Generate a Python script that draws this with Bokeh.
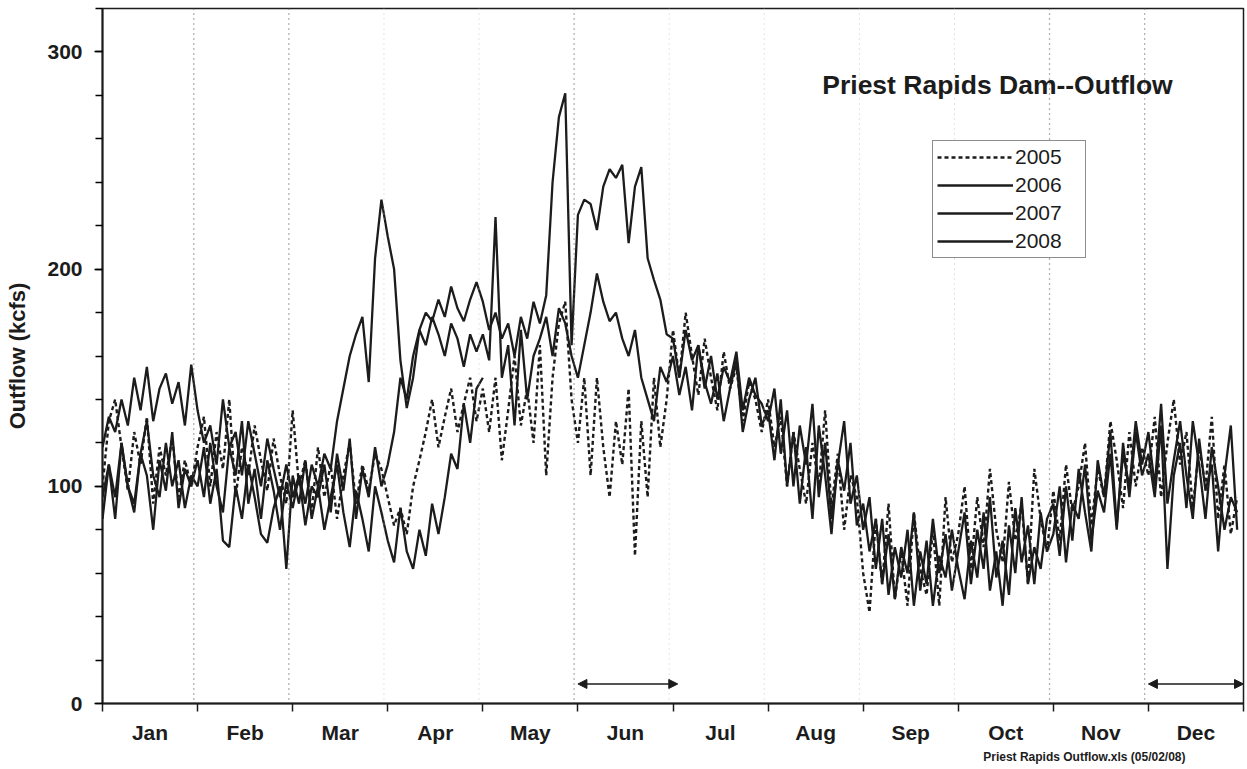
from bokeh.plotting import figure
from bokeh.models import FixedTicker, Label, Legend, LegendItem, Arrow, NormalHead, Span, Title
from bokeh.embed import file_html
from bokeh.resources import INLINE

# ---------------- data ----------------
months = ["Jan", "Feb", "Mar", "Apr", "May", "Jun",
          "Jul", "Aug", "Sep", "Oct", "Nov", "Dec"]
pts_per_month = 15  # samples per month (about every 2 days)

s2005 = [100, 130, 140, 118, 98, 125, 110, 132, 92, 118, 105, 122, 95, 112, 100,
         118, 132, 100, 125, 108, 140, 95, 118, 105, 128, 112, 98, 122, 105, 92,
         135, 100, 112, 88, 118, 95, 110, 85, 105, 120, 92, 110, 98, 115, 108,
         95, 82, 90, 78, 100, 112, 125, 140, 118, 132, 145, 125, 138, 150, 130,
         145, 125, 150, 112, 135, 160, 128, 145, 120, 165, 105, 150, 175, 185, 140,
         120, 150, 105, 150, 118, 95, 130, 110, 145, 68, 130, 95, 150, 118, 140,
         172, 150, 180, 160, 142, 168, 150, 135, 162, 145, 155, 130, 148, 140, 125,
         140, 118, 132, 100, 125, 108, 92, 120, 100, 135, 90, 115, 80, 105, 95,
         60, 42, 85, 55, 92, 48, 70, 45, 88, 62, 50, 80, 45, 95, 65,
         78, 100, 62, 95, 72, 108, 80, 65, 102, 75, 92, 55, 108, 85, 70,
         98, 75, 110, 88, 100, 120, 82, 108, 95, 130, 112, 90, 125, 100, 118,
         105, 132, 95, 120, 140, 110, 125, 90, 118, 100, 132, 85, 110, 78, 95]

s2006 = [118, 132, 125, 140, 128, 150, 135, 155, 130, 145, 152, 138, 148, 128, 156,
         135, 120, 128, 110, 140, 118, 125, 105, 130, 115, 100, 122, 108, 95, 110,
         95, 105, 92, 110, 100, 115, 108, 130, 145, 160, 170, 178, 148, 205, 232,
         215, 200, 158, 136, 150, 172, 180, 176, 186, 178, 192, 182, 176, 186, 194,
         185, 172, 180, 168, 175, 160, 178, 168, 185, 175, 188, 240, 270, 281, 165,
         225, 232, 230, 218, 238, 246, 242, 248, 212, 238, 247, 205, 195, 186, 170,
         168, 150, 172, 158, 165, 145, 160, 140, 155, 148, 162, 135, 150, 142, 138,
         130, 145, 115, 135, 100, 128, 110, 138, 95, 120, 85, 110, 130, 92, 105,
         80, 95, 62, 85, 50, 72, 58, 80, 45, 70, 55, 85, 60, 78, 52,
         70, 88, 55, 80, 62, 95, 58, 75, 50, 90, 65, 82, 55, 88, 70,
         78, 100, 65, 92, 85, 110, 75, 98, 88, 115, 80, 120, 95, 125, 105,
         115, 95, 128, 62, 105, 120, 90, 130, 110, 85, 118, 100, 80, 95, 88]

s2007 = [95, 110, 85, 120, 100, 92, 115, 105, 80, 112, 98, 125, 90, 108, 100,
         112, 95, 120, 100, 88, 118, 105, 130, 92, 108, 85, 112, 98, 80, 102,
         90, 105, 82, 100, 95, 110, 88, 115, 98, 122, 85, 108, 95, 118, 100,
         110, 125, 150, 140, 160, 172, 165, 178, 170, 160, 175, 168, 155, 170, 162,
         170, 158, 224, 150, 165, 128, 172, 140, 160, 168, 178, 160, 182, 175, 160,
         150, 165, 180, 198, 185, 176, 180, 168, 160, 172, 150, 140, 130, 155, 148,
         160, 142, 155, 135, 165, 148, 138, 152, 130, 145, 158, 125, 140, 150, 128,
         135, 112, 140, 100, 125, 92, 118, 85, 128, 105, 78, 112, 98, 120, 82,
         92, 70, 85, 55, 78, 48, 72, 60, 88, 52, 75, 45, 68, 58, 80,
         62, 48, 75, 58, 88, 52, 70, 45, 82, 60, 95, 55, 72, 62, 85,
         92, 68, 100, 75, 108, 88, 70, 112, 95, 125, 82, 115, 100, 130, 110,
         125, 100, 138, 92, 112, 130, 105, 85, 122, 98, 110, 70, 105, 128, 80]

s2008 = [85, 110, 95, 120, 100, 88, 115, 130, 105, 95, 120, 100, 112, 90, 105,
         100, 118, 92, 108, 75, 72, 100, 85, 110, 95, 78, 74, 90, 100, 62,
         105, 92, 112, 85, 100, 80, 95, 110, 88, 72, 98, 85, 70, 100, 88,
         75, 65, 90, 70, 62, 80, 68, 92, 78, 95, 115, 108, 138, 120, 145,
         150]

y_major = [0, 100, 200, 300]
y_minor_step = 20
y_max = 320

strong_boundaries = [1, 2, 5, 10, 11]     # darker dotted month lines
arrow_x0 = [5.0, 11.0]
arrow_x1 = [6.05, 12.0]
arrow_y = 9

title_text = "Priest Rapids Dam--Outflow"
foot_text = "Priest Rapids Outflow.xls (05/02/08)"
FONT = "Liberation Sans"
INK = "#1c1c1c"


def xpos(n):
    return [i / pts_per_month for i in range(n)]


p = figure(frame_width=1141, frame_height=695, x_range=(0, 12), y_range=(0, y_max),
           output_backend="svg", toolbar_location=None,
           min_border_left=102, min_border_right=4, min_border_top=8, min_border_bottom=40,
           background_fill_color="white", border_fill_color="white")
p.outline_line_color = INK
p.outline_line_width = 1.5
p.xgrid.visible = False
p.ygrid.visible = False

# month boundary dotted lines
for b in range(1, 12):
    strong = b in strong_boundaries
    p.add_layout(Span(location=b - 0.04, dimension="height",
                      line_color="#666666" if strong else "#c8c8c8",
                      line_dash="1 4", line_width=1.3 if strong else 1))

r06 = p.line(xpos(len(s2006)), s2006, line_color=INK, line_width=2.3)
r07 = p.line(xpos(len(s2007)), s2007, line_color=INK, line_width=2.3)
r08 = p.line(xpos(len(s2008)), s2008, line_color=INK, line_width=2.3)
r05 = p.line(xpos(len(s2005)), s2005, line_color=INK, line_width=2.4, line_dash="4 3")

# axes
p.xaxis.ticker = FixedTicker(ticks=[i + 0.5 for i in range(12)],
                             minor_ticks=list(range(13)))
p.xaxis.major_label_overrides = {i + 0.5: m for i, m in enumerate(months)}
p.xaxis.major_tick_line_color = None
p.xaxis.major_tick_out = 0
p.xaxis.minor_tick_out = 8
p.xaxis.minor_tick_in = 0
p.xaxis.minor_tick_line_color = INK
p.xaxis.major_label_standoff = 9

p.yaxis.ticker = FixedTicker(ticks=y_major,
                             minor_ticks=list(range(0, y_max + 1, y_minor_step)))
p.yaxis.major_tick_out = 8
p.yaxis.major_tick_in = 0
p.yaxis.minor_tick_out = 7
p.yaxis.minor_tick_in = 0
p.yaxis.major_label_standoff = 12
p.yaxis.axis_label = "Outflow (kcfs)"
p.yaxis.axis_label_standoff = 14

for ax in (p.xaxis, p.yaxis):
    ax.axis_line_color = INK
    ax.axis_line_width = 2
    ax.major_tick_line_width = 1.5
    ax.minor_tick_line_width = 1.5
    ax.major_label_text_font = FONT
    ax.major_label_text_font_style = "bold"
    ax.major_label_text_font_size = "21px"
    ax.major_label_text_color = INK
    ax.axis_label_text_font = FONT
    ax.axis_label_text_font_style = "bold"
    ax.axis_label_text_font_size = "22px"
    ax.axis_label_text_color = INK

# title inside the plot
p.add_layout(Label(x=7.57, y=285, text=title_text, text_font=FONT,
                   text_font_style="bold", text_font_size="26.5px",
                   text_color=INK, text_baseline="middle", text_align="left"))

# footnote under the axis
p.add_layout(Title(text=foot_text, align="right", offset=58, standoff=2,
                   text_font=FONT, text_font_style="bold", text_font_size="12px",
                   text_color=INK), "below")

# double-headed arrows
for xa, xb in zip(arrow_x0, arrow_x1):
    p.add_layout(Arrow(start=NormalHead(size=9, fill_color=INK, line_color=INK),
                       end=NormalHead(size=9, fill_color=INK, line_color=INK),
                       x_start=xa, x_end=xb, y_start=arrow_y, y_end=arrow_y,
                       line_color=INK, line_width=1.5))

legend = Legend(items=[LegendItem(label="2005", renderers=[r05]),
                       LegendItem(label="2006", renderers=[r06]),
                       LegendItem(label="2007", renderers=[r07]),
                       LegendItem(label="2008", renderers=[r08])],
                location=(830, 445), orientation="vertical",
                border_line_color=INK, border_line_width=1,
                background_fill_color="white", background_fill_alpha=1,
                padding=4, spacing=4, glyph_width=76, glyph_height=22,
                label_height=22, label_width=66, label_standoff=2,
                label_text_font=FONT, label_text_font_size="21px",
                label_text_color=INK, margin=0)
p.add_layout(legend)

open("out.html", "w").write(file_html(p, INLINE))
